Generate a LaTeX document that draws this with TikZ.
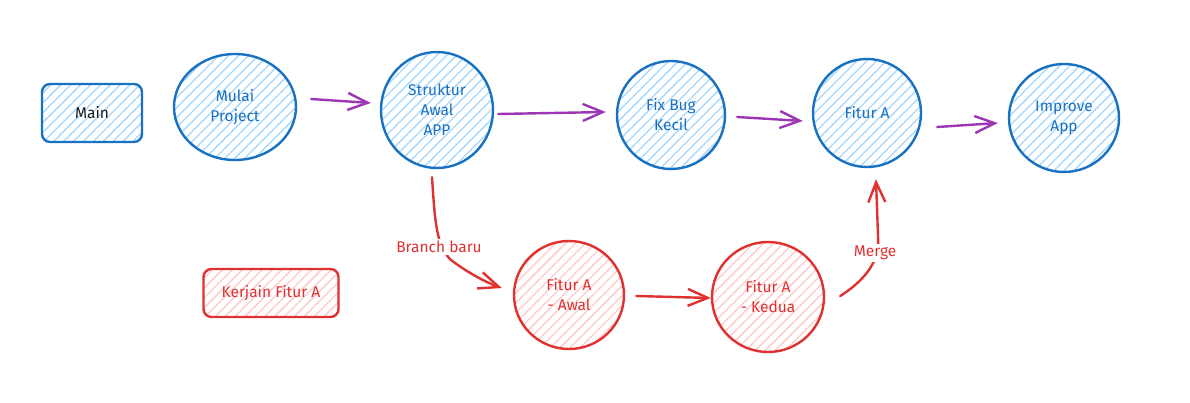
\documentclass[tikz,border=0pt]{standalone}
\usepackage{fontspec}
\setmainfont{Fira Sans}
\usetikzlibrary{shapes.geometric,arrows.meta,patterns.meta,calc}
\definecolor{bstroke}{HTML}{1971C2}
\definecolor{bhatch}{HTML}{A5D8FF}
\definecolor{rstroke}{HTML}{E03131}
\definecolor{rhatch}{HTML}{FFC9C9}
\definecolor{parrow}{HTML}{9C36B5}
\definecolor{ink}{HTML}{1E1E1E}
\tikzset{
  txt/.style={font=\fontsize{15.5}{20}\selectfont, align=center},
  hatchb/.style={pattern={Lines[angle=45,distance=7pt,line width=1.3pt]}, pattern color=bhatch},
  hatchr/.style={pattern={Lines[angle=45,distance=7pt,line width=1.3pt]}, pattern color=rhatch},
  bluenode/.style={ellipse, draw=bstroke, line width=2.4pt, inner sep=0pt, txt, text=bstroke, hatchb},
  rednode/.style={ellipse, draw=rstroke, line width=2.4pt, inner sep=0pt, txt, text=rstroke, hatchr},
  bluebox/.style={rectangle, rounded corners=8pt, draw=bstroke, line width=2.4pt, inner sep=0pt, txt, hatchb},
  redbox/.style={rectangle, rounded corners=8pt, draw=rstroke, line width=2.4pt, inner sep=0pt, txt, text=rstroke, hatchr},
  parr/.style={draw=parrow, line width=2.4pt, line cap=round, -{Straight Barb[length=20pt,width=17pt,line width=2.4pt]}},
  rarr/.style={draw=rstroke, line width=2.4pt, line cap=round, -{Straight Barb[length=20pt,width=17pt,line width=2.4pt]}},
  lbl/.style={txt, text=rstroke, fill=white, inner sep=2pt},
}
\begin{document}
\begin{tikzpicture}[x=1pt,y=-1pt]
\useasboundingbox[fill=white] (0,0) rectangle (1190,403);
% top row
\node[bluebox, minimum width=100pt, minimum height=58pt, text=ink] (main) at (92,113) {Main};
\node[bluenode, minimum width=122pt, minimum height=106pt] (mulai) at (235,107) {Mulai\\Project};
\node[bluenode, minimum width=112pt, minimum height=116pt] (struktur) at (437,110) {Struktur\\Awal\\APP};
\node[bluenode, minimum width=108pt, minimum height=108pt] (fixbug) at (671,115) {Fix Bug\\Kecil};
\node[bluenode, minimum width=108pt, minimum height=108pt] (fitura) at (867,113) {Fitur A};
\node[bluenode, minimum width=110pt, minimum height=108pt] (improve) at (1064,118) {Improve\\App};
% bottom row
\node[redbox, minimum width=135pt, minimum height=48pt] (kerjain) at (271,293) {Kerjain Fitur A};
\node[rednode, minimum width=110pt, minimum height=108pt] (awal) at (569,295) {Fitur A\\- Awal};
\node[rednode, minimum width=112pt, minimum height=110pt] (kedua) at (768,297) {Fitur A\\- Kedua};
% purple arrows
\draw[parr] ($(mulai.east)+(14,-8)$) -- ($(struktur.west)+(-9,-7)$);
\draw[parr] ($(struktur.east)+(4,4)$) -- ($(fixbug.west)+(-10,-3)$);
\draw[parr] ($(fixbug.east)+(11,2)$) -- ($(fitura.west)+(-9,8)$);
\draw[parr] ($(fitura.east)+(15,14)$) -- ($(improve.west)+(-10,5)$);
% red arrows
\draw[rarr] ($(awal.east)+(11,1)$) -- ($(kedua.west)+(0,1)$);
\coordinate (bs) at ($(struktur.south)+(-5,8)$);
\coordinate (be) at ($(awal.west)+(-11,-7)$);
\draw[rarr] (bs) .. controls ($(bs)+(3,45)$) and ($(bs)+(4,66)$) .. ($(bs)+(18,82)$)
  .. controls ($(bs)+(36,96)$) and ($(bs)+(56,106)$) .. (be);
\node[lbl] (branchlbl) at (439,247) {Branch baru};
\coordinate (ms) at ($(kedua.east)+(15,-1)$);
\coordinate (me) at ($(fitura.south)+(9,11)$);
\draw[rarr] (ms) .. controls ($(ms)+(22,-14)$) and ($(ms)+(38,-32)$) .. ($(ms)+(38,-54)$) -- (me);
\node[lbl] (mergelbl) at (875,253) {Merge};
\end{tikzpicture}
\end{document}
